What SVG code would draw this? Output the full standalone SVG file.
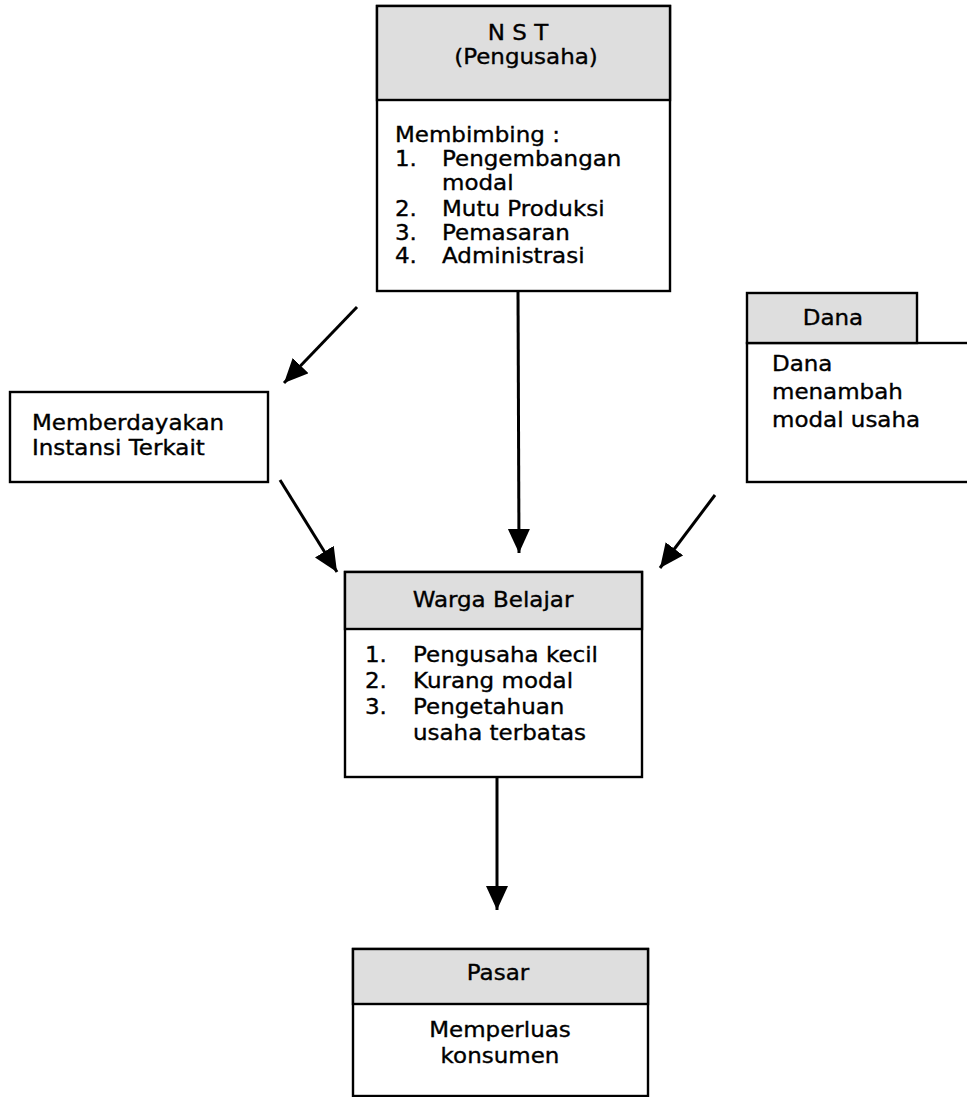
<svg xmlns="http://www.w3.org/2000/svg" width="967" height="1097" viewBox="0 0 967 1097">
<defs>
<marker id="ah" markerUnits="userSpaceOnUse" markerWidth="26" markerHeight="24" refX="24" refY="11" orient="auto">
<path d="M0,0 L24,11 L0,22 Z" fill="#000"/>
</marker>
</defs>
<style>
.box{fill:#fff;stroke:#000;stroke-width:2.4}
.hdr{fill:#dedede;stroke:#000;stroke-width:2.4}
text{font-family:"DejaVu Sans",Verdana,sans-serif;font-size:21.5px;fill:#000;stroke:#000;stroke-width:0.35}
.c{text-anchor:middle}
.con{stroke:#000;stroke-width:3;fill:none;marker-end:url(#ah)}
</style>
<rect width="967" height="1097" fill="#fff"/>
<g id="connectors">
<line class="con" x1="357" y1="307" x2="284" y2="383"/>
<line class="con" x1="280" y1="480" x2="337" y2="572"/>
<line class="con" x1="518" y1="291" x2="519" y2="553"/>
<line class="con" x1="715" y1="495" x2="660" y2="568"/>
<line class="con" x1="497" y1="778" x2="497" y2="910"/>
</g>
<g id="nst">
<rect class="box" x="377" y="6" width="293" height="285"/>
<rect class="hdr" x="377" y="6" width="293" height="94"/>
<text class="c" x="518" y="40" transform="matrix(1.07 0 0 1 -36.26 0)">N S T</text>
<text class="c" x="526" y="64" transform="matrix(1.07 0 0 1 -36.82 0)">(Pengusaha)</text>
<g transform="matrix(1.07 0 0 1 -27.65 0)">
<text x="395" y="142">Membimbing :</text>
<text x="395" y="166">1.</text>
<text x="395" y="216">2.</text>
<text x="395" y="240">3.</text>
<text x="395" y="263">4.</text>
</g>
<g transform="matrix(1.07 0 0 1 -30.94 0)">
<text x="442" y="166">Pengembangan</text>
<text x="442" y="190">modal</text>
<text x="442" y="216">Mutu Produksi</text>
<text x="442" y="240">Pemasaran</text>
<text x="442" y="263">Administrasi</text>
</g>
</g>
<g id="instansi">
<rect class="box" x="10" y="392" width="258" height="90"/>
<g transform="matrix(1.07 0 0 1 -2.24 0)">
<text x="32" y="430">Memberdayakan</text>
<text x="32" y="455">Instansi Terkait</text>
</g>
</g>
<g id="dana">
<rect class="box" x="747" y="343" width="225" height="139"/>
<rect class="hdr" x="747" y="293" width="170" height="50"/>
<text class="c" x="833" y="325" transform="matrix(1.07 0 0 1 -58.31 0)">Dana</text>
<g transform="matrix(1.07 0 0 1 -54.04 0)">
<text x="772" y="371">Dana</text>
<text x="772" y="399">menambah</text>
<text x="772" y="427">modal usaha</text>
</g>
</g>
<g id="warga">
<rect class="box" x="345" y="572" width="297" height="205"/>
<rect class="hdr" x="345" y="572" width="297" height="57"/>
<text class="c" x="493" y="607" transform="matrix(1.07 0 0 1 -34.51 0)">Warga Belajar</text>
<g transform="matrix(1.07 0 0 1 -25.55 0)">
<text x="365" y="662">1.</text>
<text x="365" y="688">2.</text>
<text x="365" y="714">3.</text>
</g>
<g transform="matrix(1.07 0 0 1 -28.91 0)">
<text x="413" y="662">Pengusaha kecil</text>
<text x="413" y="688">Kurang modal</text>
<text x="413" y="714">Pengetahuan</text>
<text x="413" y="740">usaha terbatas</text>
</g>
</g>
<g id="pasar">
<rect class="box" x="353" y="949" width="295" height="147"/>
<rect class="hdr" x="353" y="949" width="295" height="55"/>
<text class="c" x="498" y="980" transform="matrix(1.07 0 0 1 -34.86 0)">Pasar</text>
<g transform="matrix(1.07 0 0 1 -35 0)">
<text class="c" x="500" y="1037">Memperluas</text>
<text class="c" x="500" y="1063">konsumen</text>
</g>
</g>
</svg>
